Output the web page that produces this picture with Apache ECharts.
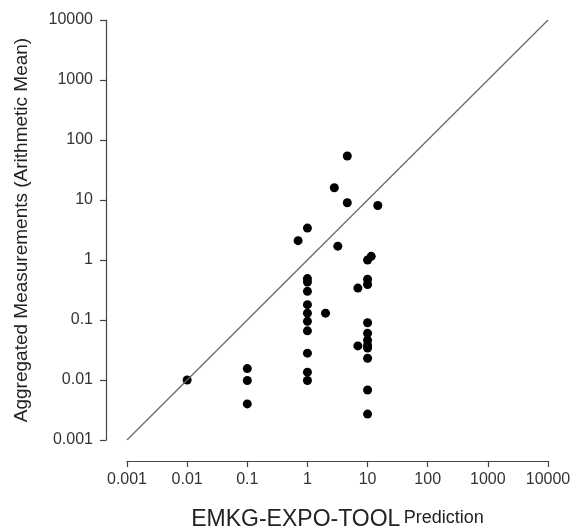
<!DOCTYPE html>
<html>
<head>
<meta charset="utf-8">
<script src="https://cdn.jsdelivr.net/npm/echarts@6/dist/echarts.min.js"></script>
<style>
  html, body { margin: 0; padding: 0; background: #fff; }
  #chart { width: 571px; height: 530px; }
</style>
</head>
<body>
<div id="chart"></div>
<script>
// tick labels, one per decade from 1e-3 to 1e4
const tickLabels = ["0.001", "0.01", "0.1", "1", "10", "100", "1000", "10000"];

// EMKG-EXPO-TOOL prediction (x) vs measured mean (y)
const predicted = [
  0.01,
  0.1, 0.1, 0.1,
  0.7,
  1, 1, 1, 1, 1, 1, 1, 1, 1, 1, 1,
  2.0,
  2.8,
  3.2,
  4.6, 4.6,
  6.9, 6.9,
  10, 10, 10, 10, 10, 10, 10, 10, 10, 10, 10,
  11.5,
  14.8
];
const measured = [
  0.01,
  0.0155, 0.0098, 0.004,
  2.1,
  3.4, 0.49, 0.43, 0.30, 0.18, 0.13, 0.095, 0.066, 0.028, 0.0135, 0.0098,
  0.13,
  16,
  1.7,
  54, 9.0,
  0.34, 0.037,
  1.0, 0.48, 0.39, 0.09, 0.06, 0.046, 0.038, 0.034, 0.023, 0.0068, 0.0027,
  1.15,
  8.1
];

// 1:1 line end points
const identityLine = [[0.001, 0.001], [10000, 10000]];

const points = predicted.map((x, i) => [x, measured[i]]);

const chart = echarts.init(document.getElementById("chart"));

const fmt = v => tickLabels[Math.round(Math.log10(v)) + 3] || "";

const axisCommon = {
  type: "log",
  logBase: 10,
  min: 0.001,
  max: 10000,
  splitLine: { show: false },
  axisLine: { show: true, lineStyle: { color: "#444", width: 1.2 } },
  axisTick: { show: true, length: 6, lineStyle: { color: "#444", width: 1.2 } },
  minorTick: { show: false },
  axisLabel: {
    color: "#333",
    fontSize: 16,
    fontFamily: "Liberation Sans",
    formatter: fmt
  }
};

const option = {
  animation: false,
  backgroundColor: "#fff",
  grid: { left: 127, right: 23, top: 20, bottom: 90, outerBoundsMode: "none" },
  xAxis: Object.assign({}, axisCommon, {
    offset: 21,
    axisLabel: Object.assign({}, axisCommon.axisLabel, { margin: 11 }),
    name: "{a|EMKG-EXPO-TOOL} {b|Prediction}",
    nameLocation: "middle",
    nameGap: 47,
    nameTextStyle: {
      rich: {
        a: { fontSize: 23, color: "#222", fontFamily: "Liberation Sans" },
        b: { fontSize: 18, color: "#222", fontFamily: "Liberation Sans", padding: [0, 0, 3, 0] }
      }
    }
  }),
  yAxis: Object.assign({}, axisCommon, {
    offset: 21,
    axisLabel: Object.assign({}, axisCommon.axisLabel, { margin: 13 }),
    name: "Aggregated Measurements (Arithmetic Mean)",
    nameLocation: "middle",
    nameGap: 75,
    nameTextStyle: { fontSize: 19, color: "#222", fontFamily: "Liberation Sans" }
  }),
  series: [
    {
      type: "line",
      data: identityLine,
      symbol: "none",
      lineStyle: { color: "#666", width: 1.2 },
      silent: true
    },
    {
      type: "scatter",
      data: points,
      symbol: "circle",
      symbolSize: 9,
      itemStyle: { color: "#000", opacity: 1 }
    }
  ]
};

chart.setOption(option);
</script>
</body>
</html>
